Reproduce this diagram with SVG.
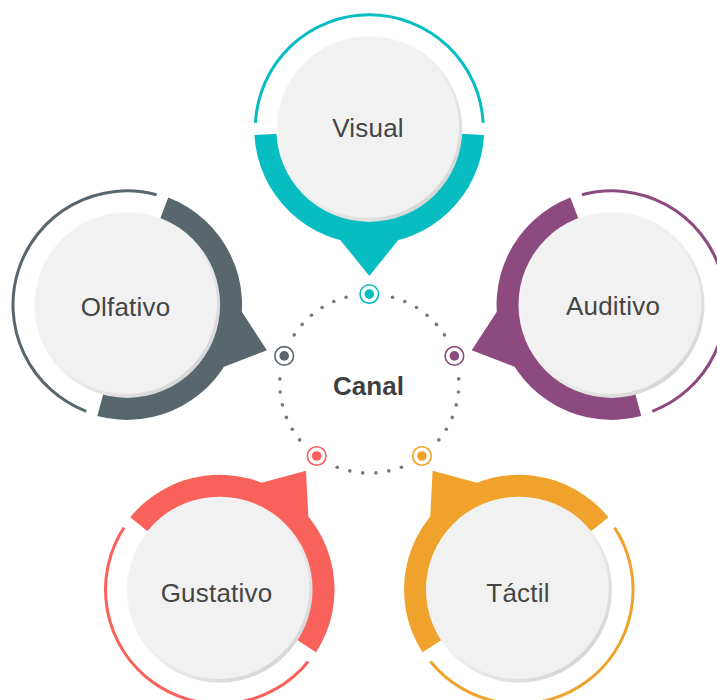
<svg xmlns="http://www.w3.org/2000/svg" xmlns:xlink="http://www.w3.org/1999/xlink" width="717" height="700" viewBox="0 0 717 700">
  <style>
    .lbl { font-family: "Liberation Sans", Arial, sans-serif; font-size: 26px; letter-spacing: 0.2px; fill: #454545; text-anchor: middle; }
    .center { font-family: "Liberation Sans", Arial, sans-serif; font-size: 26px; font-weight: bold; fill: #3f3f3f; text-anchor: middle; }
    .thin { fill: none; stroke-width: 3; }
    .dot { fill: #777777; }
    .mring { fill: #ffffff; stroke-width: 1.6; }
  </style>
  <defs>
    <linearGradient id="rim" x1="0" y1="0" x2="1" y2="1">
      <stop offset="0" stop-color="#fcfcfc"/>
      <stop offset="0.5" stop-color="#efefef"/>
      <stop offset="1" stop-color="#cdcdcd"/>
    </linearGradient>
    <!-- template, oriented with pointer downward -->
    <path id="thinArc" d="M -113.85 -5.97 A 114 114 0 0 1 113.85 -5.97"/>
    <path id="band" d="M 114.84 6.02 A 115 115 0 0 1 -114.84 6.02 L 0 0 Z M -38 100 L 38 100 L 0 147 Z"/>
    <g id="disc">
      <circle r="93" fill="url(#rim)"/>
      <circle cx="-0.8" cy="-1.4" r="90.6" fill="#f1f1f1"/>
    </g>
  </defs>

  <g id="connectors">
    <g id="dots">
      <circle class="dot" cx="392.5" cy="297.2" r="1.8"/>
      <circle class="dot" cx="404.8" cy="301.5" r="1.8"/>
      <circle class="dot" cx="416.5" cy="307.5" r="1.8"/>
      <circle class="dot" cx="427.1" cy="315.2" r="1.8"/>
      <circle class="dot" cx="436.4" cy="324.4" r="1.8"/>
      <circle class="dot" cx="444.4" cy="334.9" r="1.8"/>
      <circle class="dot" cx="458.7" cy="378.9" r="1.8"/>
      <circle class="dot" cx="458.4" cy="392.0" r="1.8"/>
      <circle class="dot" cx="456.2" cy="404.9" r="1.8"/>
      <circle class="dot" cx="452.2" cy="417.4" r="1.8"/>
      <circle class="dot" cx="446.3" cy="429.2" r="1.8"/>
      <circle class="dot" cx="438.9" cy="439.9" r="1.8"/>
      <circle class="dot" cx="401.4" cy="467.2" r="1.8"/>
      <circle class="dot" cx="388.8" cy="470.9" r="1.8"/>
      <circle class="dot" cx="375.9" cy="472.9" r="1.8"/>
      <circle class="dot" cx="362.7" cy="472.9" r="1.8"/>
      <circle class="dot" cx="349.8" cy="470.9" r="1.8"/>
      <circle class="dot" cx="337.2" cy="467.2" r="1.8"/>
      <circle class="dot" cx="299.7" cy="439.9" r="1.8"/>
      <circle class="dot" cx="292.3" cy="429.2" r="1.8"/>
      <circle class="dot" cx="286.4" cy="417.4" r="1.8"/>
      <circle class="dot" cx="282.4" cy="404.9" r="1.8"/>
      <circle class="dot" cx="280.2" cy="392.0" r="1.8"/>
      <circle class="dot" cx="279.9" cy="378.9" r="1.8"/>
      <circle class="dot" cx="294.2" cy="334.9" r="1.8"/>
      <circle class="dot" cx="302.2" cy="324.4" r="1.8"/>
      <circle class="dot" cx="311.5" cy="315.2" r="1.8"/>
      <circle class="dot" cx="322.1" cy="307.5" r="1.8"/>
      <circle class="dot" cx="333.8" cy="301.5" r="1.8"/>
      <circle class="dot" cx="346.1" cy="297.2" r="1.8"/>
    </g>
    <g id="markers">
      <circle class="mring" cx="369.3" cy="294.1" r="9.3" stroke="#08bdc2"/>
      <circle cx="369.3" cy="294.1" r="4.8" fill="#08bdc2"/>
      <circle class="mring" cx="454.4" cy="355.9" r="9.3" stroke="#8d4a7f"/>
      <circle cx="454.4" cy="355.9" r="4.8" fill="#8d4a7f"/>
      <circle class="mring" cx="421.9" cy="456" r="9.3" stroke="#f0a32c"/>
      <circle cx="421.9" cy="456" r="4.8" fill="#f0a32c"/>
      <circle class="mring" cx="316.7" cy="456" r="9.3" stroke="#f9625b"/>
      <circle cx="316.7" cy="456" r="4.8" fill="#f9625b"/>
      <circle class="mring" cx="284.2" cy="355.9" r="9.3" stroke="#58676d"/>
      <circle cx="284.2" cy="355.9" r="4.8" fill="#58676d"/>
    </g>
  </g>

  <g id="node-canal">
    <text class="center" x="368.5" y="395">Canal</text>
  </g>

  <g id="node-visual">
    <g transform="translate(369.3 128.9)">
      <use xlink:href="#thinArc" class="thin" stroke="#08bdc2"/>
      <use xlink:href="#band" fill="#08bdc2"/>
      <use xlink:href="#disc"/>
    </g>
    <text class="lbl" x="368" y="137">Visual</text>
  </g>

  <g id="node-auditivo">
    <g transform="translate(611.5 304.9) rotate(72)">
      <use xlink:href="#thinArc" class="thin" stroke="#8d4a7f"/>
      <use xlink:href="#band" fill="#8d4a7f"/>
    </g>
    <use xlink:href="#disc" x="611.5" y="304.9"/>
    <text class="lbl" x="613" y="315">Auditivo</text>
  </g>

  <g id="node-tactil">
    <g transform="translate(519 589.7) rotate(144)">
      <use xlink:href="#thinArc" class="thin" stroke="#f0a32c"/>
      <use xlink:href="#band" fill="#f0a32c"/>
    </g>
    <use xlink:href="#disc" x="519" y="589.7"/>
    <text class="lbl" x="518" y="602">Táctil</text>
  </g>

  <g id="node-gustativo">
    <g transform="translate(219.6 589.7) rotate(-144)">
      <use xlink:href="#thinArc" class="thin" stroke="#f9625b"/>
      <use xlink:href="#band" fill="#f9625b"/>
    </g>
    <use xlink:href="#disc" x="219.6" y="589.7"/>
    <text class="lbl" x="216.5" y="602">Gustativo</text>
  </g>

  <g id="node-olfativo">
    <g transform="translate(127.1 304.9) rotate(-72)">
      <use xlink:href="#thinArc" class="thin" stroke="#58676d"/>
      <use xlink:href="#band" fill="#58676d"/>
    </g>
    <use xlink:href="#disc" x="127.1" y="304.9"/>
    <text class="lbl" x="125.5" y="316">Olfativo</text>
  </g>
</svg>
